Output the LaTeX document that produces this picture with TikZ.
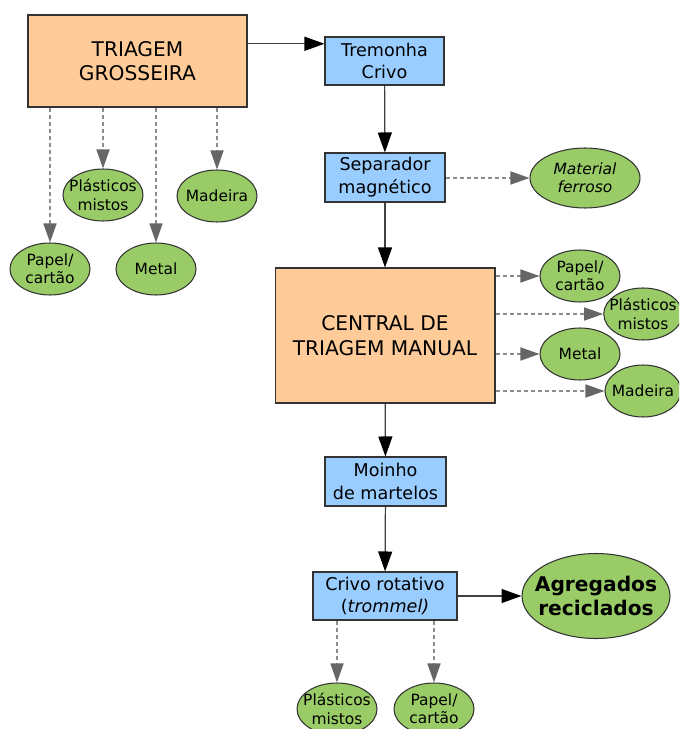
\documentclass[tikz,border=0pt]{standalone}
\usepackage{fontspec}
\setmainfont{DejaVu Sans}
\usetikzlibrary{arrows.meta}
\usetikzlibrary{shapes.geometric}
\definecolor{peach}{HTML}{FFCC99}
\definecolor{skyblue}{HTML}{99CCFF}
\definecolor{leaf}{HTML}{99CC66}
\definecolor{rim}{HTML}{333333}
\begin{document}
\begin{tikzpicture}[x=0.02cm, y=-0.02cm,
	bigbox/.style={rectangle, draw=rim, line width=0.6pt, fill=peach, align=center,
		font=\fontsize{11.5}{14}\selectfont},
	unitbox/.style={rectangle, draw=rim, line width=0.6pt, fill=skyblue, align=center,
		inner sep=0pt, font=\fontsize{10}{13}\selectfont},
	item/.style={ellipse, draw=rim, line width=0.6pt, fill=leaf, align=center,
		inner xsep=-0.12cm, inner ysep=0pt, minimum width=1.6cm, minimum height=1.04cm,
		font=\fontsize{8.8}{10.5}\selectfont},
	flow/.style={draw=black!75, line width=0.7pt,
		-{Triangle[length=0.4cm, width=0.28cm, color=black]}},
	sorted/.style={draw=black!45, line width=0.9pt, dash pattern=on 2.3pt off 1.7pt,
		-{Triangle[length=0.38cm, width=0.26cm, color=black!60]}}]
	\useasboundingbox (0,0) rectangle (679,729);
	\clip (0,0) rectangle (679,729);

	% main line
	\node[bigbox, minimum width=4.38cm, minimum height=1.84cm] (tg) at (137.5,61) {TRIAGEM\\GROSSEIRA};
	\node[unitbox, minimum width=2.38cm, minimum height=0.96cm] (tm) at (384.5,61) {Tremonha\\Crivo};
	\node[unitbox, minimum width=2.4cm, minimum height=0.98cm] (sm) at (385,177.5) {Separador\\magnético};
	\node[bigbox, minimum width=4.4cm, minimum height=2.7cm] (ct) at (385,335.5) {CENTRAL DE\\TRIAGEM MANUAL};
	\node[unitbox, minimum width=2.42cm, minimum height=0.98cm] (mm) at (385.5,481.5) {Moinho\\de martelos};
	\node[unitbox, minimum width=2.88cm, minimum height=0.96cm] (cr) at (385,596) {Crivo rotativo\\(\textit{trommel)}};

	% materials
	\begin{scope}[every node/.style={item}]
		\node (g1) at (50,269) {Papel/\\cartão};
		\node (g2) at (103,195) {Plásticos\\mistos};
		\node (g3) at (156,269) {Metal};
		\node (g4) at (217,196) {Madeira};
		\node[minimum width=2.2cm, minimum height=1.2cm] (fe) at (585,178) {\textit{Material}\\\textit{ferroso}};
		\node (c1) at (580,276) {Papel/\\cartão};
		\node[minimum width=1.52cm] (c2) at (643,314) {Plásticos\\mistos};
		\node (c3) at (580,354) {Metal};
		\node[minimum width=1.52cm] (c4) at (643,391) {Madeira};
		\node (t1) at (337,709) {Plásticos\\mistos};
		\node (t2) at (434,709) {Papel/\\cartão};
		\node[minimum width=2.96cm, minimum height=1.7cm, inner xsep=-0.19cm,
			font=\fontsize{11.5}{14}\selectfont\bfseries] (ag) at (596,596) {Agregados\\reciclados};
	\end{scope}

	% connectors
	\path[flow] (tg.east |- tm.164) -- (tm.164);
	\path[flow] (tm) -- (sm);
	\path[flow] (sm) -- (ct);
	\path[flow] (ct) -- (mm);
	\path[flow] (mm) -- (cr);
	\path[flow] (cr) -- (ag);

	\path[sorted] (tg.south -| g1) -- (g1.north);
	\path[sorted] (tg.south -| g2) -- (g2.north);
	\path[sorted] (tg.south -| g3) -- (g3.north);
	\path[sorted] (tg.south -| g4) -- (g4.north);
	\path[sorted] (sm.east |- fe) -- (fe.west);
	\path[sorted] (ct.east |- c1) -- (c1.west);
	\path[sorted] (ct.east |- c2) -- (c2.west);
	\path[sorted] (ct.east |- c3) -- (c3.west);
	\path[sorted] (ct.east |- c4) -- (c4.west);
	\path[sorted] (cr.south -| t1) -- (t1.north);
	\path[sorted] (cr.south -| t2) -- (t2.north);
\end{tikzpicture}
\end{document}
